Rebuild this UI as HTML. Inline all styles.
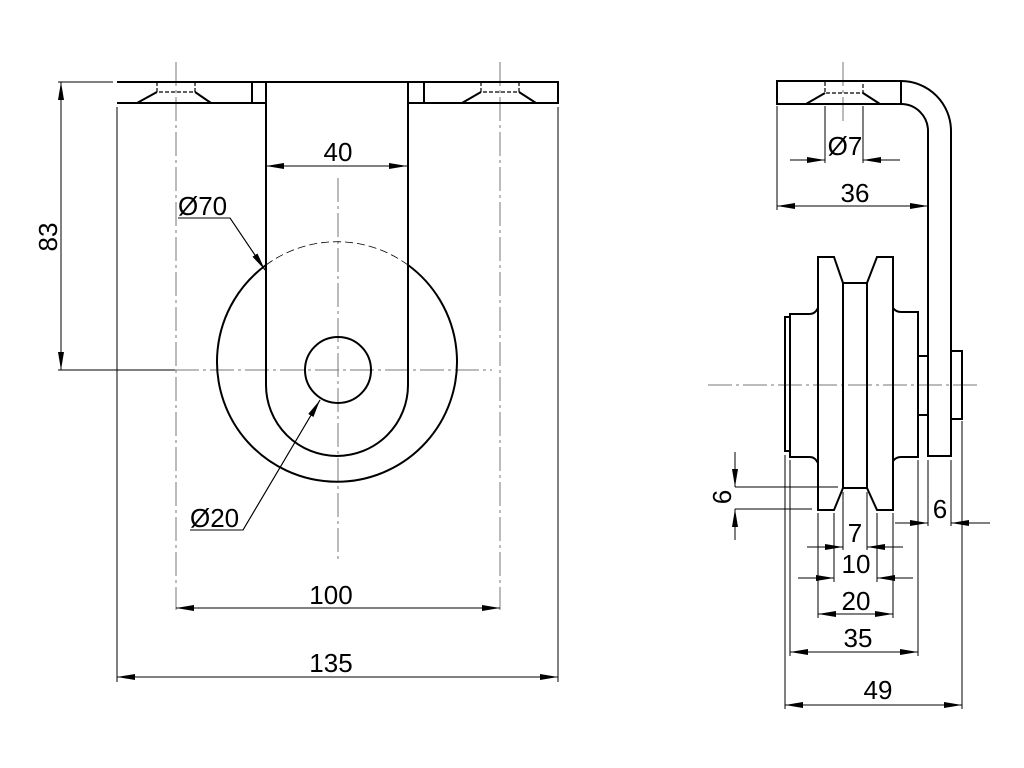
<!DOCTYPE html>
<html><head><meta charset="utf-8"><style>
html,body{margin:0;padding:0;background:#fff;}
svg{display:block;}
text{font-family:"Liberation Sans",sans-serif;font-size:26px;fill:#000;}
</style></head><body>
<svg width="1024" height="768" viewBox="0 0 1024 768" xmlns="http://www.w3.org/2000/svg">
<defs>
<marker id="a" viewBox="0 0 18 6" refX="18" refY="3" markerWidth="18" markerHeight="6" markerUnits="userSpaceOnUse" orient="auto-start-reverse">
<path d="M0,0 L18,3 L0,6 Z" fill="#000"/></marker>
</defs>
<rect width="1024" height="768" fill="#fff"/>
<!-- center lines -->
<g stroke="#777" stroke-width="1" fill="none" stroke-dasharray="24,4,3,4">
<line x1="176" y1="62" x2="176" y2="610"/>
<line x1="500" y1="62" x2="500" y2="610"/>
<line x1="338" y1="178" x2="338" y2="560"/>
<line x1="175" y1="370" x2="492" y2="370"/>
<line x1="843" y1="62" x2="843" y2="122"/>
<line x1="708" y1="385" x2="980" y2="385"/>
</g>
<!-- thin lines -->
<g stroke="#000" stroke-width="1" fill="none">
<line x1="58" y1="82" x2="113" y2="82"/>
<line x1="58" y1="370" x2="175" y2="370"/>
<line x1="117" y1="107" x2="117" y2="682"/>
<line x1="558" y1="107" x2="558" y2="682"/>
<line x1="61" y1="82" x2="61" y2="370" marker-start="url(#a)" marker-end="url(#a)"/>
<line x1="266" y1="166" x2="407" y2="166" marker-start="url(#a)" marker-end="url(#a)"/>
<line x1="176" y1="608" x2="500" y2="608" marker-start="url(#a)" marker-end="url(#a)"/>
<line x1="117" y1="677" x2="558" y2="677" marker-start="url(#a)" marker-end="url(#a)"/>
<polyline points="178,218 230,218 265,270" />
<line x1="230" y1="218" x2="265" y2="270" marker-end="url(#a)"/>
<polyline points="190,530 243,530 320,400"/>
<line x1="243" y1="530" x2="320" y2="400" marker-end="url(#a)"/>
<!-- right view dims -->
<line x1="825" y1="106" x2="825" y2="163"/>
<line x1="863" y1="106" x2="863" y2="163"/>
<line x1="790" y1="160" x2="825" y2="160" marker-end="url(#a)"/>
<line x1="900" y1="160" x2="863" y2="160" marker-end="url(#a)"/>
<line x1="777" y1="106" x2="777" y2="210"/>
<line x1="777" y1="206" x2="928" y2="206" marker-start="url(#a)" marker-end="url(#a)"/>
<line x1="735" y1="487" x2="838" y2="487"/>
<line x1="735" y1="509" x2="812" y2="509"/>
<line x1="735" y1="452" x2="735" y2="487" marker-end="url(#a)"/>
<line x1="735" y1="540" x2="735" y2="509" marker-end="url(#a)"/>
<line x1="818" y1="513" x2="818" y2="618"/>
<line x1="834" y1="513" x2="834" y2="582"/>
<line x1="843" y1="492" x2="843" y2="550"/>
<line x1="867" y1="492" x2="867" y2="550"/>
<line x1="877" y1="513" x2="877" y2="582"/>
<line x1="893" y1="513" x2="893" y2="618"/>
<line x1="790" y1="460" x2="790" y2="656"/>
<line x1="785" y1="455" x2="785" y2="709"/>
<line x1="918" y1="460" x2="918" y2="656"/>
<line x1="928" y1="460" x2="928" y2="526"/>
<line x1="951" y1="460" x2="951" y2="526"/>
<line x1="962" y1="421" x2="962" y2="709"/>
<line x1="807" y1="547" x2="843" y2="547" marker-end="url(#a)"/>
<line x1="903" y1="547" x2="867" y2="547" marker-end="url(#a)"/>
<line x1="798" y1="578" x2="834" y2="578" marker-end="url(#a)"/>
<line x1="913" y1="578" x2="877" y2="578" marker-end="url(#a)"/>
<line x1="818" y1="614" x2="893" y2="614" marker-start="url(#a)" marker-end="url(#a)"/>
<line x1="790" y1="652" x2="918" y2="652" marker-start="url(#a)" marker-end="url(#a)"/>
<line x1="785" y1="705" x2="962" y2="705" marker-start="url(#a)" marker-end="url(#a)"/>
<line x1="895" y1="523" x2="928" y2="523" marker-end="url(#a)"/>
<line x1="990" y1="523" x2="951" y2="523" marker-end="url(#a)"/>
</g>
<!-- dashed hidden -->
<g stroke="#000" stroke-width="1.2" fill="none" stroke-dasharray="4,2">
<path d="M157,82 V92 H195 V82"/>
<path d="M481,82 V92 H519 V82"/>
<path d="M825,82 V93 H863 V82"/>
<path d="M266,265 A120,120 0 0 1 408,265" stroke-dasharray="8,4" stroke-width="0.8"/>
</g>
<!-- thick outlines -->
<g stroke="#000" stroke-width="2" fill="none">
<path d="M117,82 H558 V103 H408 M266,103 H117 Z"/>
<line x1="252" y1="82" x2="252" y2="103"/>
<line x1="424" y1="82" x2="424" y2="103"/>
<path d="M137,103 L157,92 M195,92 L211,103"/>
<path d="M462,103 L481,92 M519,92 L536,103"/>
<path d="M266,82 V385 A71,71 0 0 0 408,385 V82"/>
<path d="M266,265 A120,120 0 1 0 408,265"/>
<circle cx="338" cy="370" r="33"/>
<!-- right view -->
<path d="M901,81 H777 V104 H901 Z"/>
<path d="M806,104 L825,93 M863,93 L880,104"/>
<path d="M901,81 A50,50 0 0 1 951,131 V456 H928 V131 A27,27 0 0 0 901,104"/>
<path d="M818,257 H834 L843,283 H867 L877,257 H893 V510 H877 L867,488 H843 L834,510 H818 Z"/>
<line x1="843" y1="283" x2="843" y2="488"/>
<line x1="867" y1="283" x2="867" y2="488"/>
<path d="M818,308 Q815,314 810,314 H790 V457 H810 Q815,457 818,463"/>
<rect x="785" y="317" width="5" height="134"/>
<path d="M893,308 Q896,312 901,312 H918 V457 H901 Q896,457 893,461"/>
<rect x="918" y="356" width="10" height="59"/>
<rect x="951" y="351" width="11" height="68"/>
</g>
<!-- text -->
<text x="338" y="161" text-anchor="middle">40</text>
<text x="178" y="215">Ø70</text>
<text x="190" y="527">Ø20</text>
<text x="331" y="604" text-anchor="middle">100</text>
<text x="331" y="672" text-anchor="middle">135</text>
<text transform="translate(57,237) rotate(-90)" text-anchor="middle">83</text>
<text x="845" y="155" text-anchor="middle">Ø7</text>
<text x="855" y="202" text-anchor="middle">36</text>
<text transform="translate(731,497) rotate(-90)" text-anchor="middle">6</text>
<text x="855" y="542" text-anchor="middle">7</text>
<text x="856" y="573" text-anchor="middle">10</text>
<text x="856" y="610" text-anchor="middle">20</text>
<text x="858" y="647" text-anchor="middle">35</text>
<text x="878" y="699" text-anchor="middle">49</text>
<text x="940" y="518" text-anchor="middle">6</text>
</svg>
</body></html>
